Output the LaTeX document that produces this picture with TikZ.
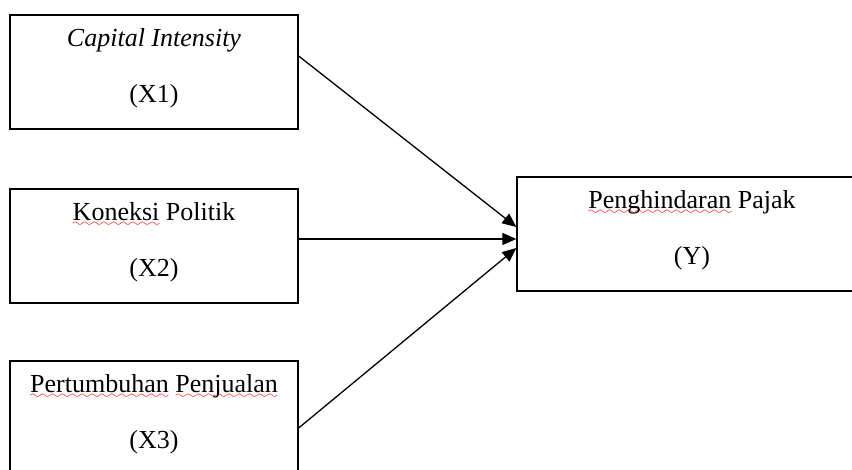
\documentclass[tikz,border=0pt]{standalone}
\usepackage{fontspec}
\setmainfont{Liberation Serif}
\usetikzlibrary{arrows.meta}

\font\wavefont=lasy6 scaled 1900
\newsavebox\wavebox
\newcommand{\redwave}[1]{\sbox\wavebox{#1}\leavevmode
  \rlap{\lower5.5pt\hbox to \wd\wavebox{\color{red}\xleaders\hbox{\wavefont\char58}\hfil}}\usebox\wavebox}

\begin{document}
\begin{tikzpicture}[x=1pt, y=1pt,
  var/.style={draw, line width=1.3pt, minimum width=288pt, minimum height=114pt,
    inner sep=0pt, align=center, text depth=13pt, font=\fontsize{26}{56}\selectfont},
  arr/.style={line width=1.3pt, -{Triangle[length=14pt, width=12pt]}}]
\useasboundingbox (0,0) rectangle (852,469);
\clip (0,0) rectangle (852,469);

\node[var] (x1) at (154, 397) {\textit{Capital Intensity}\\(X1)};
\node[var] (x2) at (154, 223) {\redwave{Koneksi} Politik\\(X2)};
\node[var] (x3) at (154, 51) {\redwave{Pertumbuhan} \redwave{Penjualan}\\(X3)};
\node[var, minimum width=350pt] (y) at (692, 235) {\redwave{Penghindaran} Pajak\\(Y)};

\draw[arr] ([yshift=16pt]x1.east) -- ([yshift=7pt]y.west);
\draw[arr] ([yshift=7pt]x2.east) -- ([yshift=-5pt]y.west);
\draw[arr] ([yshift=-10pt]x3.east) -- ([yshift=-14pt]y.west);
\end{tikzpicture}
\end{document}
